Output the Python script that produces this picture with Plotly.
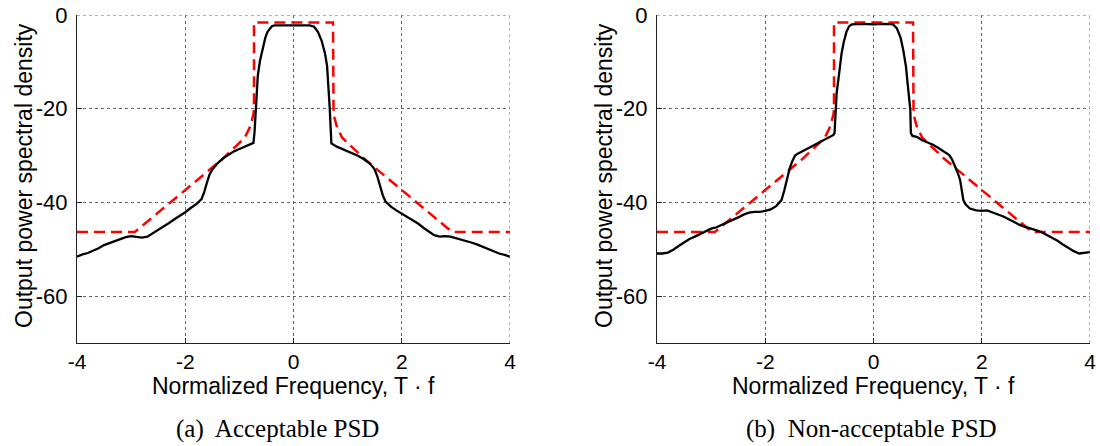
import plotly.graph_objects as go

# ---------------- data ----------------
# (a) Acceptable PSD - measured output spectrum
freq_a = [-4.0, -3.9, -3.8, -3.7, -3.6, -3.5, -3.4, -3.3, -3.2, -3.1, -3.0, -2.9, -2.8, -2.7,
          -2.6, -2.5, -2.4, -2.3, -2.2, -2.1, -2.0, -1.9, -1.8, -1.7, -1.65, -1.6, -1.55, -1.5,
          -1.45, -1.4, -1.3, -1.2, -1.1, -1.0, -0.9, -0.8, -0.74, -0.72, -0.70, -0.68, -0.66,
          -0.62, -0.58, -0.52, -0.48, -0.4, -0.35, -0.2, 0.0, 0.2, 0.3, 0.38, 0.45, 0.52, 0.58,
          0.62, 0.64, 0.67, 0.69, 0.70, 0.8, 0.9, 1.0, 1.1, 1.2, 1.3, 1.4, 1.45, 1.5, 1.55, 1.6,
          1.65, 1.7, 1.8, 1.9, 2.0, 2.1, 2.2, 2.3, 2.4, 2.5, 2.6, 2.7, 2.8, 2.9, 3.0, 3.1, 3.2,
          3.3, 3.4, 3.5, 3.6, 3.7, 3.8, 3.9, 4.0]
psd_a = [-51.6, -51.1, -50.8, -50.3, -49.8, -49.1, -48.7, -48.3, -47.8, -47.4, -47.2, -47.3, -47.5, -47.3,
         -46.6, -45.8, -45.2, -44.4, -43.6, -42.9, -42.1, -41.2, -40.4, -39.3, -37.8, -35.8, -34.0, -33.0,
         -32.2, -31.6, -30.6, -29.8, -29.1, -28.6, -28.1, -27.6, -27.3, -25.0, -20.3, -16.5, -13.0,
         -9.8, -7.5, -4.8, -3.6, -2.4, -2.2, -2.2, -2.3, -2.2, -2.2, -2.5, -3.6, -5.5, -8.1,
         -10.8, -13.9, -20.0, -25.0, -27.4, -28.1, -28.6, -29.0, -29.6, -30.1, -30.8, -31.6, -32.2, -33.0, -34.5, -36.6,
         -38.5, -39.8, -40.9, -41.7, -42.4, -43.0, -43.8, -44.5, -45.4, -46.2, -47.0, -47.3, -47.2, -47.3, -47.6, -47.9, -48.3,
         -48.6, -49.0, -49.5, -50.0, -50.4, -50.9, -51.2, -51.6]

# (b) Non-acceptable PSD - measured output spectrum
freq_b = [-4.0, -3.9, -3.8, -3.7, -3.6, -3.5, -3.4, -3.3, -3.2, -3.1, -3.0, -2.9, -2.8, -2.7,
          -2.6, -2.5, -2.4, -2.3, -2.2, -2.1, -2.0, -1.9, -1.8, -1.75, -1.7, -1.65, -1.6, -1.55,
          -1.5, -1.45, -1.4, -1.3, -1.2, -1.1, -1.0, -0.9, -0.8, -0.74, -0.72, -0.70, -0.68, -0.65,
          -0.62, -0.59, -0.55, -0.5, -0.45, -0.4, -0.2, 0.0, 0.2, 0.36, 0.43, 0.5, 0.55, 0.6,
          0.63, 0.68, 0.69, 0.72, 0.8, 0.9, 1.0, 1.1, 1.2, 1.3, 1.4, 1.45, 1.5, 1.55, 1.6, 1.63,
          1.66, 1.7, 1.78, 1.9, 2.0, 2.1, 2.2, 2.3, 2.4, 2.5, 2.6, 2.7, 2.8, 2.9, 3.0, 3.1, 3.2,
          3.3, 3.4, 3.5, 3.6, 3.7, 3.8, 3.9, 4.0]
psd_b = [-50.9, -50.9, -50.7, -50.1, -49.3, -48.6, -47.8, -47.3, -46.7, -46.1, -45.6, -45.3, -44.8, -44.3,
         -43.8, -43.2, -42.6, -42.2, -42.0, -42.0, -41.8, -41.5, -40.8, -40.2, -39.5, -37.5, -35.2, -32.8,
         -31.2, -30.0, -29.6, -29.0, -28.4, -27.7, -27.2, -26.6, -26.0, -25.6, -25.2, -20.3, -16.5, -13.9,
         -10.5, -8.2, -5.8, -3.6, -2.4, -2.0, -1.9, -2.0, -1.9, -2.0, -2.8, -4.8, -7.5, -11.0,
         -14.6, -20.2, -25.2, -25.8, -26.0, -26.7, -27.2, -27.7, -28.4, -29.1, -29.9, -30.8, -32.0, -33.5, -35.2, -37.5,
         -39.5, -40.4, -41.3, -41.7, -41.8, -41.7, -42.1, -42.5, -43.0, -43.6, -44.2, -44.8, -45.2, -45.5, -45.9, -46.3, -46.9,
         -47.5, -48.2, -49.0, -49.7, -50.4, -50.9, -50.8, -50.6]

# spectral mask (same for both panels)
mask_freq = [-4.0, -2.93, -1.33, -0.9, -0.8, -0.74, -0.73, -0.73, 0.73, 0.73, 0.74, 0.8, 0.9, 1.33, 2.93, 4.0]
mask_psd = [-46.3, -46.3, -30.9, -26.2, -23.8, -21.2, -20.0, -1.6, -1.6, -20.0, -21.2, -23.8, -26.2, -30.9, -46.3, -46.3]

x_ticks = [-4, -2, 0, 2, 4]
x_ticktext = ["-4", "-2", "0", "2", "4"]
y_ticks = [-60, -40, -20, 0]
y_ticktext = ["-60", "-40", "-20", "0"]
x_range = [-4, 4]
y_range = [-70, 0]
x_label = "Normalized Frequency, T \u00b7 f"
y_label = "Output power spectral density"
captions = ["(a)  Acceptable PSD", "(b)  Non-acceptable PSD"]

# ---------------- figure ----------------
W, H = 1100, 446
fig = go.Figure()

panels = [("x", "y", freq_a, psd_a), ("x2", "y2", freq_b, psd_b)]
for xa, ya, fx, fy in panels:
    fig.add_trace(go.Scatter(x=mask_freq, y=mask_psd, mode="lines", xaxis=xa, yaxis=ya,
                             line=dict(color="#ff0000", width=2.5, dash="11px,6px"),
                             showlegend=False, hoverinfo="skip"))
    fig.add_trace(go.Scatter(x=fx, y=fy, mode="lines", xaxis=xa, yaxis=ya,
                             line=dict(color="#000000", width=2.3),
                             showlegend=False, hoverinfo="skip"))

font_sans = "Liberation Sans, Arial, sans-serif"

x_dom = [[77 / W, 510 / W], [657 / W, 1090 / W]]
y_dom = [(H - 343) / H, (H - 15) / H]

axis_common = dict(showline=True, linecolor="#222222", linewidth=1,
                   ticks="inside", ticklen=5, tickcolor="#222222",
                   showgrid=True, gridcolor="#666666", griddash="dot", gridwidth=1,
                   zeroline=False, automargin=False, mirror=False)

layout = dict(width=W, height=H, margin=dict(l=0, r=0, t=0, b=0),
              paper_bgcolor="white", plot_bgcolor="white", showlegend=False)

shapes = []
for i in range(2):
    sx = "" if i == 0 else "2"
    layout["xaxis" + sx] = dict(domain=x_dom[i], range=x_range, tickvals=x_ticks, ticktext=x_ticktext,
                                anchor="y" + sx, ticklabelstandoff=0,
                                tickfont=dict(family=font_sans, size=21, color="#000000"), **axis_common)
    layout["yaxis" + sx] = dict(domain=y_dom, range=y_range, tickvals=y_ticks, ticktext=y_ticktext,
                                anchor="x" + sx, ticklabelstandoff=4,
                                tickfont=dict(family=font_sans, size=22, color="#000000"), **axis_common)
    # dotted box edges (top and right grid lines)
    shapes.append(dict(type="line", xref="x" + sx, yref="y" + sx, x0=x_range[0], x1=x_range[1],
                       y0=y_range[1], y1=y_range[1], line=dict(color="#666666", width=1, dash="dot")))
    shapes.append(dict(type="line", xref="x" + sx, yref="y" + sx, x0=x_range[1], x1=x_range[1],
                       y0=y_range[0], y1=y_range[1], line=dict(color="#666666", width=1, dash="dot")))
layout["shapes"] = shapes
fig.update_layout(**layout)

annotations = []
x_centers = [293.5, 873.5]
ytitle_x = [24, 604]
cap_x = [277, 871]
for i in range(2):
    annotations.append(dict(text=x_label, x=x_centers[i] / W, y=1 - 386 / H, xref="paper", yref="paper",
                            xanchor="center", yanchor="middle", showarrow=False,
                            font=dict(family=font_sans, size=23, color="#000000")))
    annotations.append(dict(text=y_label, x=ytitle_x[i] / W, y=1 - 176 / H, xref="paper", yref="paper",
                            xanchor="center", yanchor="middle", showarrow=False, textangle=-90,
                            font=dict(family=font_sans, size=23, color="#000000")))
    annotations.append(dict(text=captions[i], x=cap_x[i] / W, y=1 - 429 / H, xref="paper", yref="paper",
                            xanchor="center", yanchor="middle", showarrow=False,
                            font=dict(family="Liberation Serif, Times New Roman, serif", size=25,
                                      color="#000000")))
fig.update_layout(annotations=annotations)

fig.write_html("out.html")
